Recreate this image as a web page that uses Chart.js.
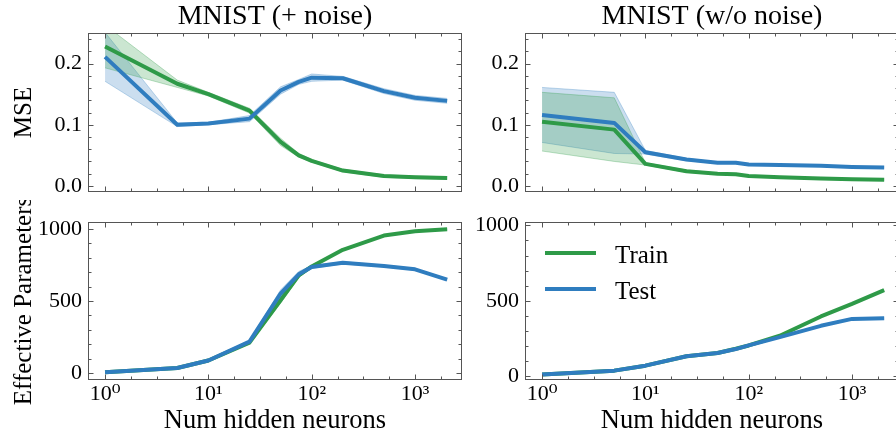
<!DOCTYPE html>
<html><head><meta charset="utf-8">
<script src="https://cdn.jsdelivr.net/npm/chart.js@4.4.1/dist/chart.umd.min.js"></script>
<style>
html,body{margin:0;padding:0;background:#fff;overflow:hidden}
body{width:896px;height:437px;position:relative}
canvas{position:absolute}
.legtxt{position:absolute;font-family:'Liberation Serif',serif;font-size:25px;line-height:25px;color:#000;white-space:nowrap}
.legline{position:absolute;height:4px;width:51px}
</style></head>
<body>
<canvas id="tl" width="470" height="200" style="left:0;top:0"></canvas>
<canvas id="tr" width="460" height="200" style="left:440px;top:0"></canvas>
<canvas id="bl" width="470" height="237" style="left:0;top:200px"></canvas>
<canvas id="br" width="460" height="237" style="left:440px;top:200px"></canvas>
<div id="legend"></div>
<script>
// ---------------- data ----------------
const N_HIDDEN = [1, 5, 10, 25, 50, 75, 100, 200, 500, 1000, 2048];
const SERIES = ['Train', 'Test'];
const PANEL_TITLES = ['MNIST (+ noise)', 'MNIST (w/o noise)'];
const X_TICKS = [1, 10, 100, 1000];
const MSE_TICKS = [0.0, 0.1, 0.2];
const EFF_TICKS = [0, 500, 1000];

const NOISE_MSE_TRAIN     = [0.228, 0.167, 0.150, 0.123, 0.072, 0.050, 0.041, 0.025, 0.016, 0.014, 0.013];
const NOISE_MSE_TRAIN_STD = [0.035, 0.006, 0.003, 0.004, 0.006, 0.003, 0.002, 0.002, 0.002, 0.002, 0.002];
const NOISE_MSE_TEST      = [0.211, 0.100, 0.102, 0.110, 0.156, 0.170, 0.177, 0.176, 0.155, 0.144, 0.139];
const NOISE_MSE_TEST_STD  = [0.040, 0.003, 0.002, 0.005, 0.006, 0.004, 0.006, 0.003, 0.004, 0.004, 0.004];

const CLEAN_MSE_TRAIN     = [0.105, 0.092, 0.036, 0.024, 0.020, 0.019, 0.016, 0.014, 0.012, 0.011, 0.010];
const CLEAN_MSE_TRAIN_STD = [0.048, 0.052, 0.002, 0.002, 0.001, 0.001, 0.001, 0.001, 0.001, 0.001, 0.001];
const CLEAN_MSE_TEST      = [0.116, 0.103, 0.055, 0.043, 0.038, 0.038, 0.035, 0.034, 0.033, 0.031, 0.030];
const CLEAN_MSE_TEST_STD  = [0.045, 0.050, 0.003, 0.002, 0.001, 0.001, 0.001, 0.001, 0.001, 0.001, 0.001];

const NOISE_EFF_TRAIN     = [5, 35, 87, 211, 505, 678, 740, 855, 954, 984, 998];
const NOISE_EFF_TRAIN_STD = [2, 3, 4, 8, 20, 15, 8, 5, 4, 3, 3];
const NOISE_EFF_TEST      = [5, 35, 87, 218, 552, 685, 736, 765, 743, 720, 648];
const NOISE_EFF_TEST_STD  = [2, 3, 4, 8, 25, 20, 10, 8, 6, 6, 6];

const CLEAN_EFF_TRAIN     = [12, 37, 70, 132, 154, 182, 204, 268, 396, 479, 571];
const CLEAN_EFF_TRAIN_STD = [2, 3, 3, 4, 4, 4, 4, 5, 5, 5, 5];
const CLEAN_EFF_TEST      = [12, 37, 70, 132, 154, 180, 204, 259, 334, 380, 385];
const CLEAN_EFF_TEST_STD  = [2, 3, 3, 4, 4, 4, 4, 5, 5, 5, 5];

// ---------------- style ----------------
const COLORS = ['#2e9a48', '#2f7dbf'];
const FONT = "'Liberation Serif', 'DejaVu Serif', serif";
const SUP = {0:'\u2070',1:'\u00B9',2:'\u00B2',3:'\u00B3'};
Chart.defaults.font.family = FONT;
Chart.defaults.color = '#000';

function rgba(hex, a) {
  const n = parseInt(hex.slice(1), 16);
  return `rgba(${(n>>16)&255},${(n>>8)&255},${n&255},${a})`;
}
function pts(arr, f) { return N_HIDDEN.map((x, i) => ({x, y: f ? f(i) : arr[i]})); }

const frame = {
  id: 'frame',
  afterDraw(chart, args, opts) {
    const {ctx, chartArea: a} = chart;
    const xs = chart.scales.x, ys = chart.scales.y;
    ctx.save();
    ctx.strokeStyle = '#555';
    ctx.lineWidth = 1;
    const L = Math.round(a.left) + 0.5, R = Math.round(a.right) - 0.5;
    const T = Math.round(a.top) + 0.5, B = Math.round(a.bottom) - 0.5;
    ctx.strokeRect(L, T, R - L, B - T);
    ctx.beginPath();
    const lo = Math.ceil(Math.log10(xs.min) * 4), hi = Math.floor(Math.log10(xs.max) * 4);
    for (let k = lo; k <= hi; k++) {
      const px = Math.round(xs.getPixelForValue(Math.pow(10, k / 4))) + 0.5;
      const len = (k % 4 === 0) ? 5 : 3;
      ctx.moveTo(px, B); ctx.lineTo(px, B - len);
      ctx.moveTo(px, T); ctx.lineTo(px, T + len);
    }
    const st = opts.yMinor, per = opts.perMajor;
    const k0 = Math.ceil(ys.min / st - 1e-9), k1 = Math.floor(ys.max / st + 1e-9);
    for (let k = k0; k <= k1; k++) {
      const py = Math.round(ys.getPixelForValue(k * st)) + 0.5;
      const len = (k % per === 0) ? 5 : 3;
      ctx.moveTo(L, py); ctx.lineTo(L + len, py);
      ctx.moveTo(R, py); ctx.lineTo(R - len, py);
    }
    ctx.stroke();
    ctx.restore();
  }
};

function makeChart(id, o) {
  const datasets = [];
  o.series.forEach((s, i) => {
    const c = COLORS[i];
    datasets.push({label: s.name + ' lo', data: pts(null, j => s.mean[j] - s.std[j]),
      borderColor: rgba(c, 0.3), borderWidth: 1, pointRadius: 0, fill: false, order: 5, tension: 0});
    datasets.push({label: s.name + ' hi', data: pts(null, j => s.mean[j] + s.std[j]),
      borderColor: rgba(c, 0.3), borderWidth: 1, pointRadius: 0, fill: '-1',
      backgroundColor: rgba(c, 0.25), order: 5, tension: 0});
  });
  o.series.forEach((s, i) => {
    datasets.push({label: s.name, data: pts(s.mean), borderColor: COLORS[i], borderWidth: 4,
      pointRadius: 0, fill: false, order: o.series.length - 1 - i, tension: 0,
      borderJoinStyle: 'round', borderCapStyle: 'butt'});
  });
  return new Chart(document.getElementById(id), {
    type: 'line',
    data: {datasets},
    plugins: [frame],
    options: {
      responsive: false, animation: false, events: [],
      layout: {padding: o.padding, autoPadding: false},
      plugins: {
        legend: {display: false}, tooltip: {enabled: false},
        title: o.title ? {display: true, text: o.title, fullSize: false, color: '#000',
          font: {size: 28, weight: 'normal', family: FONT, lineHeight: 1.15},
          padding: {top: 0.45, bottom: 0.35}} : {display: false},
        frame: {yMinor: o.yMinor, perMajor: o.perMajor}
      },
      scales: {
        x: {
          type: 'logarithmic', min: 0.684, max: 2850,
          grid: {display: false, drawTicks: false}, border: {display: false},
          afterBuildTicks: sc => { sc.ticks = X_TICKS.map(v => ({value: v})); },
          afterFit: sc => { sc.height = o.xHeight; sc.paddingLeft = 0; sc.paddingRight = 0; },
          ticks: {display: o.xLabels, padding: 1.3, maxRotation: 0, autoSkip: false,
            font: {size: 22}, color: '#000',
            callback: v => '10' + SUP[Math.round(Math.log10(v))]},
          title: {display: o.xLabels, text: 'Num hidden neurons', font: {size: 26.5},
            color: '#000', padding: {top: 0, bottom: 0.05}}
        },
        y: {
          type: 'linear', min: o.yMin, max: o.yMax,
          grid: {display: false, drawTicks: false}, border: {display: false},
          afterBuildTicks: sc => { sc.ticks = o.yTicks.map(v => ({value: v})); },
          afterFit: sc => { sc.width = o.yWidth; sc.paddingTop = 0; sc.paddingBottom = 0; },
          ticks: {padding: 6, font: {size: 22}, color: '#000', callback: o.yFmt},
          title: {display: !!o.yTitle, text: o.yTitle || '', font: {size: 25}, color: '#000',
            padding: {top: 9, bottom: 0}}
        }
      }
    }
  });
}

const mseFmt = v => v.toFixed(1);
const effFmt = v => String(v);

makeChart('tl', {
  title: PANEL_TITLES[0], yTitle: 'MSE', yWidth: 88, xHeight: 8, xLabels: false,
  padding: {left: 0, right: 8, top: 0, bottom: 0},
  yMin: -0.01, yMax: 0.25, yTicks: MSE_TICKS, yMinor: 0.02, perMajor: 5, yFmt: mseFmt,
  series: [{name: SERIES[0], mean: NOISE_MSE_TRAIN, std: NOISE_MSE_TRAIN_STD},
           {name: SERIES[1], mean: NOISE_MSE_TEST, std: NOISE_MSE_TEST_STD}]
});
makeChart('tr', {
  title: PANEL_TITLES[1], yTitle: '', yWidth: 85, xHeight: 8, xLabels: false,
  padding: {left: 0, right: 1, top: 0, bottom: 0},
  yMin: -0.01, yMax: 0.25, yTicks: MSE_TICKS, yMinor: 0.02, perMajor: 5, yFmt: mseFmt,
  series: [{name: SERIES[0], mean: CLEAN_MSE_TRAIN, std: CLEAN_MSE_TRAIN_STD},
           {name: SERIES[1], mean: CLEAN_MSE_TEST, std: CLEAN_MSE_TEST_STD}]
});
makeChart('bl', {
  title: null, yTitle: 'Effective Parameters', yWidth: 88, xHeight: 57, xLabels: true,
  padding: {left: 0, right: 8, top: 22, bottom: 0},
  yMin: -48, yMax: 1048, yTicks: EFF_TICKS, yMinor: 100, perMajor: 5, yFmt: effFmt,
  series: [{name: SERIES[0], mean: NOISE_EFF_TRAIN, std: NOISE_EFF_TRAIN_STD},
           {name: SERIES[1], mean: NOISE_EFF_TEST, std: NOISE_EFF_TEST_STD}]
});
makeChart('br', {
  title: null, yTitle: '', yWidth: 85, xHeight: 57, xLabels: true,
  padding: {left: 0, right: 1, top: 22, bottom: 0},
  yMin: -25, yMax: 1022, yTicks: EFF_TICKS, yMinor: 100, perMajor: 5, yFmt: effFmt,
  series: [{name: SERIES[0], mean: CLEAN_EFF_TRAIN, std: CLEAN_EFF_TRAIN_STD},
           {name: SERIES[1], mean: CLEAN_EFF_TEST, std: CLEAN_EFF_TEST_STD}]
});

// legend (HTML, from series names and colors)
const leg = document.getElementById('legend');
const LEG_ROW_TOP = [251, 287];
SERIES.forEach((name, i) => {
  const ln = document.createElement('div');
  ln.className = 'legline';
  ln.style.left = '545px'; ln.style.top = LEG_ROW_TOP[i] + 'px';
  ln.style.background = COLORS[i];
  leg.appendChild(ln);
  const tx = document.createElement('div');
  tx.className = 'legtxt';
  tx.style.left = '615px'; tx.style.top = (LEG_ROW_TOP[i] - 9) + 'px';
  tx.textContent = name;
  leg.appendChild(tx);
});
</script>
</body></html>
